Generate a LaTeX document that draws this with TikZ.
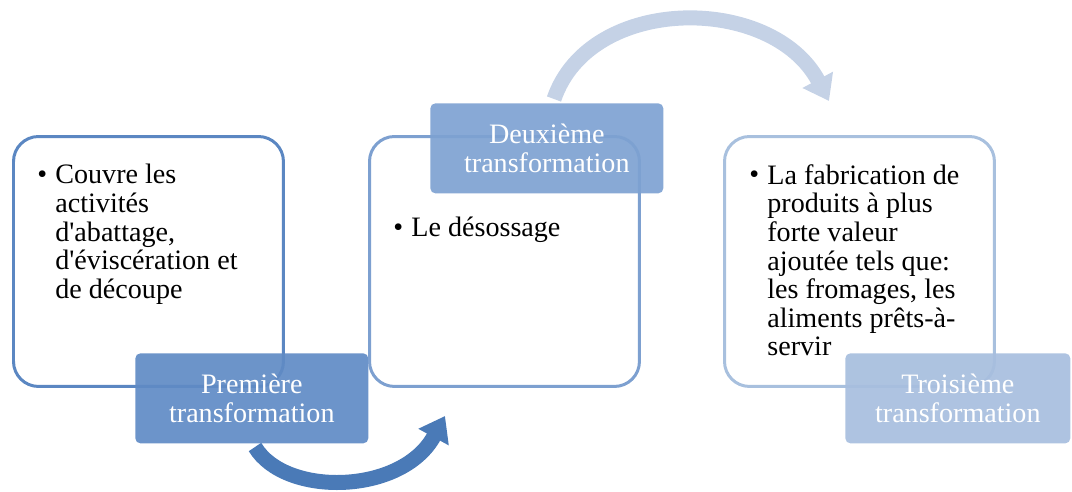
\documentclass[tikz,border=0pt]{standalone}
\usepackage{fontspec}
\setmainfont{Liberation Serif}
\usetikzlibrary{arrows.meta}
\definecolor{bordA}{RGB}{91,135,194}
\definecolor{fillA}{RGB}{96,139,197}
\definecolor{arrA}{RGB}{74,122,183}
\definecolor{bordB}{RGB}{125,160,208}
\definecolor{fillB}{RGB}{126,162,210}
\definecolor{bordC}{RGB}{168,192,222}
\definecolor{fillC}{RGB}{167,190,222}
\definecolor{arrB}{RGB}{197,210,230}
\tikzset{
  txt/.style={font=\fontsize{16}{16.3}\selectfont, inner sep=0pt, align=left, anchor=north west},
  bul/.style={font=\fontsize{16}{16.3}\selectfont, inner sep=0pt, anchor=base west},
  bigbox/.style={draw, line width=0.06cm, rounded corners=0.5cm, minimum width=5.4cm, minimum height=5cm, anchor=north west, fill=white},
  lab/.style={rounded corners=0.1cm, minimum height=1.8cm, anchor=north west, text=white, align=center, fill opacity=0.92, text opacity=1, font=\fontsize{16}{16.3}\selectfont, inner sep=0pt},
  bigarrow/.style={line width=0.3cm, -{Triangle[length=0.48cm, width=0.66cm]}}
}
\newcommand{\apos}{\textquotesingle}
\begin{document}
\begin{tikzpicture}[x=0.02cm, y=-0.02cm]
\useasboundingbox (0,0) rectangle (1072,491);
% arrows
\coordinate (a1s) at (255,447);
\coordinate (a1e) at (445,416);
\draw[bigarrow, arrA] (a1s) .. controls (285,497) and (402,495) .. (a1e);
\coordinate (a2s) at (554,99);
\coordinate (a2e) at (829,101);
\draw[bigarrow, arrB] (a2s) .. controls (590,-6) and (772,-6) .. (a2e);
% box 1
\node[bigbox, draw=bordA] (box1) at (12,135) {};
\node[bul] (b1) at (37,183) {\textbullet};
\node[txt] (t1) at (55,164) {Couvre les\\activités\\d\apos abattage,\\d\apos éviscération et\\de découpe};
\node[lab, fill=fillA, minimum width=4.66cm] (l1) at (135,353) {Première\\transformation};
% box 2
\node[bigbox, draw=bordB] (box2) at (368,135) {};
\node[bul] (b2) at (393,236) {\textbullet};
\node[txt] (t2) at (411,217) {Le désossage};
\node[lab, fill=fillB, minimum width=4.66cm] (l2) at (430,103) {Deuxième\\transformation};
% box 3
\node[bigbox, draw=bordC] (box3) at (723,135) {};
\node[bul] (b3) at (749,183) {\textbullet};
\node[txt] (t3) at (767,164) {La fabrication de\\produits à plus\\forte valeur\\ajoutée tels que:\\les fromages, les\\aliments prêts-à-\\servir};
\node[lab, fill=fillC, minimum width=4.5cm] (l3) at (845,353) {Troisième\\transformation};
\end{tikzpicture}
\end{document}
